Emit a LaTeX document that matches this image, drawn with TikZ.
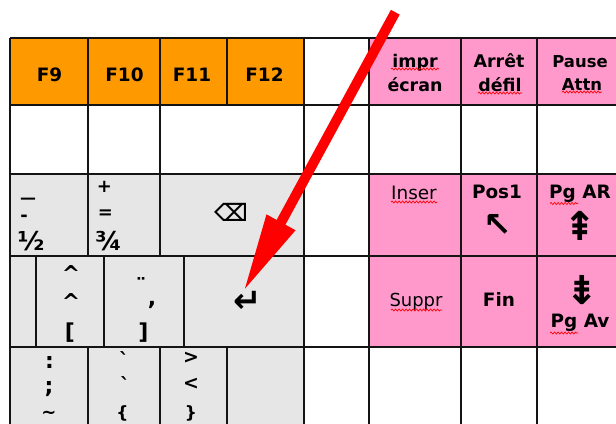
\documentclass[tikz,border=0pt]{standalone}
\usepackage{fontspec}
\usetikzlibrary{arrows.meta,decorations.pathmorphing}
\newfontfamily\kb[Ligatures=TeXOff]{DejaVu Sans}
\definecolor{keyorange}{HTML}{FF9900}
\definecolor{keypink}{HTML}{FF99CC}
\definecolor{keygray}{HTML}{E6E6E6}
\definecolor{gridline}{HTML}{141414}
\definecolor{arrowred}{HTML}{FF0000}
\begin{document}
\begin{tikzpicture}[x=1bp,y=-1bp,
  lbl/.style={inner sep=0pt, font=\kb\bfseries\fontsize{#1}{#1}\selectfont},
  lblr/.style={inner sep=0pt, font=\kb\fontsize{#1}{#1}\selectfont},
  wavy/.style={draw=red, line width=0.7bp, decorate, decoration={snake, segment length=3.5bp, amplitude=1bp}},
  gridl/.style={draw=gridline, line width=2bp},
  pointer/.style={draw=arrowred, line width=10bp, -{Triangle[length=79bp,width=30bp]}, fill=arrowred}
]
\useasboundingbox (0,0) rectangle (616,423);
\begin{scope}
\clip (0,0) rectangle (616,423);
\fill[white] (0,0) rectangle (616,423);
% fills
\fill[keyorange] (10,38) rectangle (304,105);
\fill[keypink] (369,38) rectangle (630,105);
\fill[keygray] (10,174) rectangle (304,430);
\fill[keypink] (369,174) rectangle (630,347);
% horizontal lines
\foreach \yy in {38,105,174,256,347}
  \draw[gridl] (10,\yy) -- (630,\yy);
% full vertical lines
\foreach \xx in {10,304,369,461,537}
  \draw[gridl] (\xx,38) -- (\xx,430);
% partial vertical lines
\foreach \xx in {88,160} {
  \draw[gridl] (\xx,38) -- (\xx,256);
  \draw[gridl] (\xx,347) -- (\xx,430);
}
\draw[gridl] (227,38) -- (227,105);
\draw[gridl] (227,347) -- (227,430);
\foreach \xx in {36,104,184}
  \draw[gridl] (\xx,256) -- (\xx,347);

% row 1
\node[lbl=18.5, anchor=base] (f9) at (49.5,81) {F9};
\node[lbl=18.5, anchor=base] (f10) at (124.5,81) {F10};
\node[lbl=18.5, anchor=base] (f11) at (192,81) {F11};
\node[lbl=18.5, anchor=base] (f12) at (264.5,81) {F12};
\node[lbl=17.5, anchor=base] (impr) at (415,67) {impr};
\node[lbl=17.5, anchor=base] (ecran) at (415,91) {écran};
\node[lbl=17.5, anchor=base] (arret) at (499,67) {Arrêt};
\node[lbl=17.5, anchor=base] (defil) at (500,91.5) {défil};
\node[lbl=16.5, anchor=base] (pause) at (580,67.5) {Pause};
\node[lbl=16.5, anchor=base] (attn) at (582,90.5) {Attn};

% row 3 left
\node[lbl=16, anchor=base] (emdash) at (28,203) {—};
\node[lbl=18, anchor=base] (hyph) at (24,221.5) {-};
\node[lbl=26, anchor=base] (half) at (31,250) {½};
\node[lbl=18, anchor=center] (plus) at (104.5,187) {+};
\node[lbl=18, anchor=base] (equal) at (105.5,218) {=};
\node[lbl=26, anchor=base] (threeq) at (108.5,250) {¾};
\node[lbl=24, anchor=center] (bksp) at (231,212) {⌫};

% row 4 left
\node[lbl=22, anchor=base] (circa) at (71,281) {\textasciicircum};
\node[lbl=22, anchor=base] (circb) at (71,309) {\textasciicircum};
\node[lbl=22, anchor=center] (lbrack) at (70,332.5) {[};
\node[lbl=22, anchor=base] (diaer) at (141,294.5) {¨};
\node[lbl=22, anchor=base] (comma) at (152,305.5) {,};
\node[lbl=22, anchor=center] (rbrack) at (143.5,332.5) {]};
\node[lbl=34, anchor=center] (enter) at (248,302) {↵};

% row 5 left
\node[lbl=22, anchor=base] (colon) at (49.5,368) {:};
\node[lbl=22, anchor=base] (semic) at (49,393) {;};
\node[lbl=18, anchor=base] (tilde) at (49,418) {\textasciitilde};
\node[lbl=20, anchor=base] (grava) at (124,367) {`};
\node[lbl=20, anchor=base] (gravb) at (125,392) {`};
\node[lbl=17, anchor=center] (lbrace) at (122.5,413) {\{};
\node[lbl=19, anchor=center] (greater) at (191,358) {>};
\node[lbl=19, anchor=center] (less) at (191,384) {<};
\node[lbl=17, anchor=center] (rbrace) at (191,413) {\}};

% pink block
\node[lblr=18.5, anchor=base] (inser) at (414,199) {Inser};
\node[lbl=18.5, anchor=base] (pos1) at (497,198) {Pos1};
\node[lbl=34, anchor=center] (nwarr) at (498,225) {↖};
\node[lbl=18.5, anchor=base] (pgar) at (580,198) {Pg AR};
\node[lbl=40, anchor=center] (pgup) at (580.5,226) {⇞};
\node[lblr=18, anchor=base] (suppr) at (416,306) {Suppr};
\node[lbl=18.5, anchor=base] (fin) at (499,306.5) {Fin};
\node[lbl=40, anchor=center] (pgdn) at (582.5,290) {⇟};
\node[lbl=18.5, anchor=base] (pgav) at (580,327) {Pg Av};

% spell-check wavy underlines
\draw[wavy] (391,69) -- (439,69);
\draw[wavy] (478,93) -- (522,93);
\draw[wavy] (562,92) -- (602,92);
\draw[wavy] (391,202) -- (437,202);
\draw[wavy] (550,203.5) -- (578,203.5);
\draw[wavy] (391,310) -- (442,310);
\draw[wavy] (550,333) -- (578,333);

% red pointer
\coordinate (ptail) at (395.3,12.2);
\coordinate (ptip) at (243.3,291.7);
\draw[pointer] (ptail) -- (ptip);
\end{scope}
\end{tikzpicture}
\end{document}
